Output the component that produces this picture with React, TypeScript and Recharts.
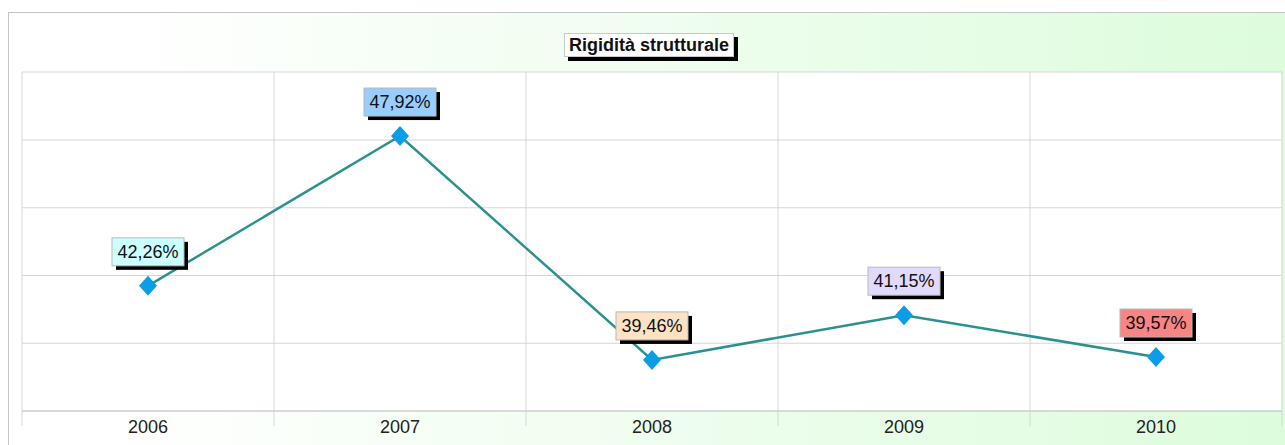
import { LineChart, Line, XAxis, YAxis, CartesianGrid } from 'recharts'

const years = ['2006', '2007', '2008', '2009', '2010']
const values = [42.26, 47.92, 39.46, 41.15, 39.57]
const gridTicks = [0, 1, 2, 3, 4, 5]
const yTicks = [37.53, 40.09, 42.65, 45.21, 47.77, 50.34]
const labelColors = ['#ccffff', '#99ccff', '#fde2c4', '#e2dafc', '#f98484']

const FONT = '"Liberation Sans", Arial, sans-serif'

const data = years.map((year, i) => ({ year, pos: i + 0.5, value: values[i] }))

function Diamond(props: any) {
  const { cx, cy } = props
  if (cx == null || cy == null) return null
  return (
    <polygon
      points={`${cx},${cy - 10} ${cx + 9},${cy} ${cx},${cy + 10} ${cx - 9},${cy}`}
      fill="#0b9ee6"
    />
  )
}

function ValueLabel(props: any) {
  const { x, y, value, index } = props
  const text = value.toFixed(2).replace('.', ',') + '%'
  const w = 72
  const h = 28
  const left = x - w / 2
  const top = y - 20 - h
  return (
    <g>
      <rect x={left + 4} y={top + 4} width={w} height={h} fill="#000" />
      <rect x={left} y={top} width={w} height={h} fill={labelColors[index]} stroke="#b8b8b8" strokeWidth={1} />
      <text x={x} y={top + h / 2 + 6} textAnchor="middle" fontFamily={FONT} fontSize={18} fill="#111">
        {text}
      </text>
    </g>
  )
}

const EmptyTick = () => <g />

export default function App() {
  return (
    <div style={{ height: 425 }}>
      <div
        style={{
          position: 'fixed',
          left: 8,
          top: 12,
          width: 1290,
          height: 432,
          border: '1px solid #c4c4c4',
          background: 'linear-gradient(to right, #ffffff 8%, #dcfcdc 100%)',
        }}
      >
        <LineChart width={1290} height={432} data={data} margin={{ top: 59, right: 17, left: 13, bottom: 4 }}>
          <CartesianGrid xAxisId="grid" stroke="#d6d6d6" fill="#ffffff" />
          <YAxis hide type="number" domain={[37.53, 50.34]} ticks={yTicks} />
          <XAxis
            xAxisId="grid"
            type="number"
            dataKey="pos"
            domain={[0, 5]}
            ticks={gridTicks}
            interval={0}
            height={1}
            tick={<EmptyTick />}
            tickSize={15}
            stroke="#c8c8c8"
            tickLine={{ stroke: '#d6d6d6' }}
          />
          <XAxis
            xAxisId="main"
            type="number"
            dataKey="pos"
            domain={[0, 5]}
            ticks={data.map((d) => d.pos)}
            interval={0}
            height={29}
            axisLine={false}
            tickLine={false}
            tickFormatter={(v: number) => years[Math.floor(v)]}
            tick={{ fontFamily: FONT, fontSize: 18, fill: '#222' }}
          />
          <Line
            xAxisId="main"
            type="linear"
            dataKey="value"
            stroke="#2a9090"
            strokeWidth={2.5}
            dot={<Diamond />}
            activeDot={false}
            label={<ValueLabel />}
            isAnimationActive={false}
          />
        </LineChart>
        <div
          style={{
            position: 'absolute',
            left: 555,
            top: 20,
            width: 168,
            height: 22,
            background: '#fff',
            border: '1px solid #c8c8c8',
            boxShadow: '4px 4px 0 #000',
            fontFamily: FONT,
            fontWeight: 'bold',
            fontSize: 18,
            lineHeight: '22px',
            textAlign: 'center',
            color: '#111',
          }}
        >
          Rigidità strutturale
        </div>
      </div>
    </div>
  )
}
